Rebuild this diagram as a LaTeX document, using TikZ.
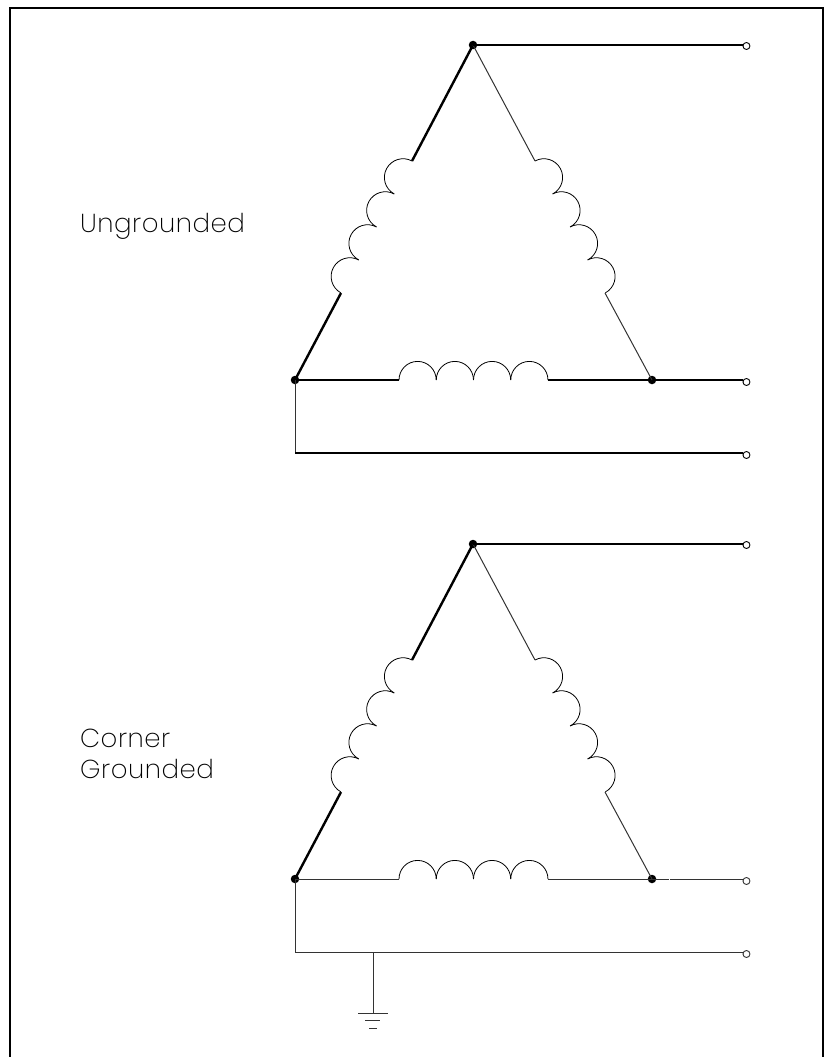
\documentclass[tikz,border=0pt]{standalone}
\usepackage{fontspec}
\newfontfamily\labelfont[LetterSpace=2]{Poppins ExtraLight}
\usetikzlibrary{positioning}
\begin{document}
\begin{tikzpicture}[
  x=1pt, y=-1pt,
  heavy/.style={line width=2.4pt},
  medium/.style={line width=1.8pt},
  light/.style={line width=1pt, black!80},
  coilline/.style={line width=0.8pt},
  frameline/.style={line width=2.2pt},
  joint/.style={circle, fill=black, inner sep=0pt, minimum size=8.5pt},
  terminal/.style={circle, draw, fill=white, line width=0.9pt, inner sep=0pt, minimum size=7pt},
  caption/.style={anchor=base west, inner sep=0pt, font=\labelfont\fontsize{26}{31}\selectfont}
]
\useasboundingbox (0,0) rectangle (826,1057);

% Outer frame
\draw[frameline] (10,1060) -- (10,8) -- (823,8) -- (823,1060);

% Upper delta
\node[joint] (topA) at (473,45) {};
\node[joint] (leftA) at (295,380) {};
\node[joint] (rightA) at (652,380) {};
\coordinate (stubA) at (669,380);
\coordinate (cornerA) at (295,453);
\draw[heavy] (topA.center) -- (412,161);
\draw[heavy] (341,293) -- (leftA.center);
\draw[heavy] (leftA.center) -- (399,380);
\draw[medium] (548,380) -- (rightA.center) -- (stubA);
\draw[light] (topA.center) -- (535,161);
\draw[light] (605,293) -- (rightA.center);
\draw[light] (leftA.center) -- (cornerA);

\draw[heavy] (topA.center) -- (743,45) node[terminal, anchor=west, yshift=-1pt, xshift=-0.5pt] (termA1) {};
\draw[heavy] (stubA) -- (743,380) node[terminal, anchor=west, yshift=-2pt, xshift=-0.5pt] (termA2) {};
\draw[heavy] (cornerA) -- (743,453) node[terminal, anchor=west, yshift=-2pt, xshift=-0.5pt] (termA3) {};

% Lower delta
\node[joint] (topB) at (473,544) {};
\node[joint] (leftB) at (295,879) {};
\node[joint] (rightB) at (652,879) {};
\coordinate (stubB) at (668.5,879);
\coordinate (cornerB) at (295,952);
\coordinate (gndB) at (373,952);
\coordinate (gndEnd) at (373,1013);
\draw[heavy] (topB.center) -- (412,660);
\draw[heavy] (341,792) -- (leftB.center);
\draw[light] (leftB.center) -- (399,879);
\draw[light] (548,879) -- (rightB.center) -- (stubB);
\draw[light] (topB.center) -- (535,660);
\draw[light] (605,792) -- (rightB.center);
\draw[light] (leftB.center) -- (cornerB) -- (743,952) node[terminal, anchor=west, yshift=-2pt, xshift=-0.5pt] (termB3) {};
\draw[light] (gndB) -- (gndEnd);
\draw[light] (358,1013) -- (388,1013);
\draw[light] (365,1020) -- (380,1020);
\draw[light] (369,1028) -- (377,1028);

\draw[heavy] (topB.center) -- (743,544) node[terminal, anchor=west, yshift=-1pt, xshift=-0.5pt] (termB1) {};
\draw[light] (670,879) -- (743,879) node[terminal, anchor=west, yshift=-2pt, xshift=-0.5pt] (termB2) {};

% Coils
\foreach \dy in {0,499} {
  \foreach \k in {0,1,2,3} {
    \draw[coilline] ({412-17.75*\k},{161+\dy+33*\k}) arc[start angle=61.5, end angle=241.5, radius=18.7pt];
    \draw[coilline] ({535+17.5*\k},{161+\dy+33*\k}) arc[start angle=118.5, end angle=-61.5, radius=18.7pt];
    \draw[coilline] ({399+37.25*\k},{380+\dy}) arc[start angle=180, end angle=0, radius=18.6pt];
  }
}

% Labels
\node[caption] (labelA) at (80,232) {Ungrounded};
\node[caption] (labelB) at (80,747) {Corner};
\node[caption] (labelC) at (80,778) {Grounded};
\end{tikzpicture}
\end{document}
